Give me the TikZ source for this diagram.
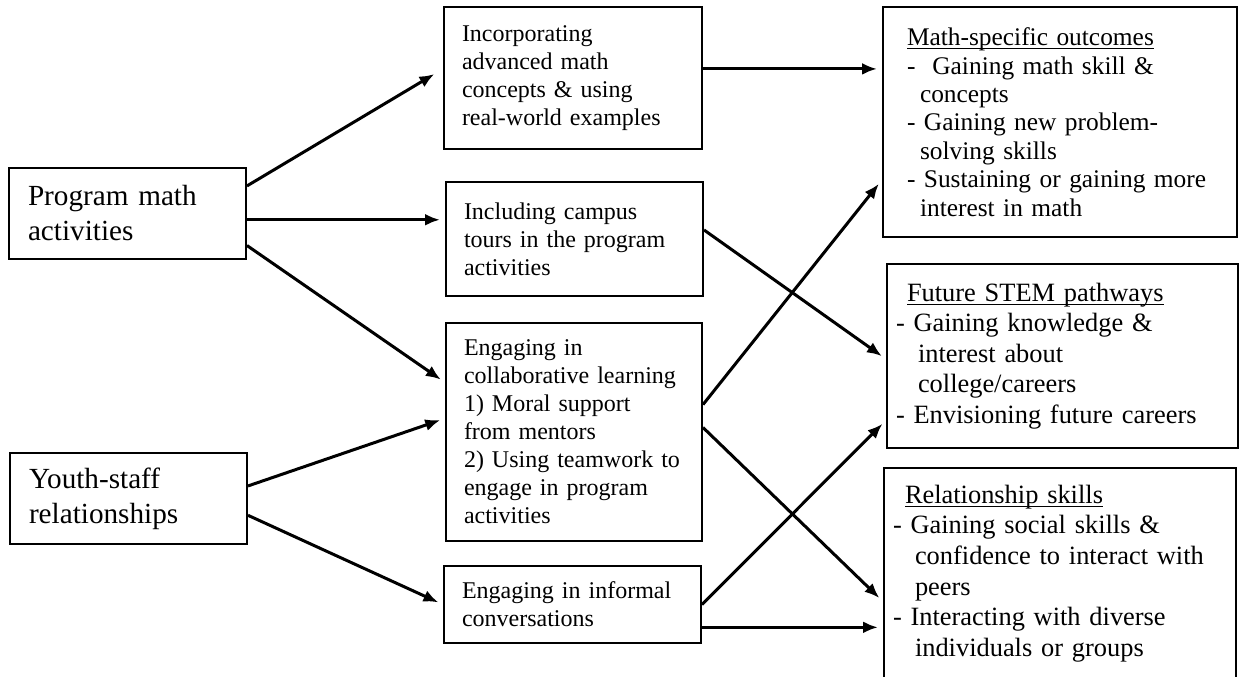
\documentclass[tikz,border=0pt]{standalone}
\usepackage{fontspec}
\setmainfont{Liberation Serif}
\usetikzlibrary{arrows.meta}
\newcommand{\uln}[1]{\setbox0\hbox{#1}\rlap{\rule[-1.8pt]{\wd0}{0.5pt}}#1}

\begin{document}
\begin{tikzpicture}[x=0.5pt,y={(0pt,-0.5pt)},
  box/.style={draw,line width=1pt,align=left,inner ysep=0pt},
  srcbox/.style={box,inner xsep=9.5pt,text width=99.5pt,minimum width=118.5pt,minimum height=45.5pt,font=\fontsize{14.6}{17.5}\selectfont},
  midbox/.style={box,inner xsep=9pt,font=\fontsize{12}{14}\selectfont},
  outbox/.style={box,inner xsep=4.5pt,font=\fontsize{13.2}{15.3}\selectfont},
  >={Latex[length=7.5pt,width=6pt]},
  link/.style={->,line width=1.5pt,shorten >=2.5pt}]
\useasboundingbox (0,0) rectangle (1239,676);

% sources
\node[srcbox] (math) at (127.5,213.5) {Program math\\activities};
\node[srcbox] (youth) at (128.5,498.5) {Youth-staff\\relationships};

% practices
\node[midbox,text width=111pt,minimum width=129pt,minimum height=71pt] (adv) at (573,78)
  {Incorporating\\advanced math\\concepts \& using\\real-world examples};
\node[midbox,text width=110.5pt,minimum width=128.5pt,minimum height=57pt] (tour) at (574.5,239)
  {Including campus\\tours in the program\\activities};
\node[midbox,text width=110pt,minimum width=128pt,minimum height=109pt] (collab) at (574,432)
  {Engaging in\\collaborative learning\\1) Moral support\\from mentors\\2) Using teamwork to\\engage in program\\activities};
\node[midbox,text width=110.5pt,minimum width=128.5pt,minimum height=38.5pt] (talk) at (572.5,604.5)
  {Engaging in informal\\conversations};

% outcomes
\node[outbox,inner xsep=12pt,text width=153pt,minimum width=177pt,minimum height=115pt,font=\fontsize{12.7}{14.2}\selectfont] (mathout) at (1060,122)
  {\uln{Math-specific outcomes}\\
   -\ \ Gaining math skill \&\\
   \hspace*{6.5pt}concepts\\
   - Gaining new problem-\\
   \hspace*{6.5pt}solving skills\\
   - Sustaining or gaining more\\
   \hspace*{6.5pt}interest in math};
\node[outbox,text width=166.5pt,minimum width=175.5pt,minimum height=92pt] (stem) at (1062.5,356)
  {\hspace*{5.5pt}\uln{Future STEM pathways}\\
   - Gaining knowledge \&\\
   \hspace*{11pt}interest about\\
   \hspace*{11pt}college/careers\\
   - Envisioning future careers};
\node[outbox,text width=167pt,minimum width=176pt,minimum height=105.5pt] (rel) at (1060,573.5)
  {\hspace*{6pt}\uln{Relationship skills}\\
   - Gaining social skills \&\\
   \hspace*{11pt}confidence to interact with\\
   \hspace*{11pt}peers\\
   - Interacting with diverse\\
   \hspace*{11pt}individuals or groups};

% links
\draw[link,shorten >=5pt] (math.13.5) -- (adv.176.7);
\draw[link] (math.-3.1) -- (math.-3.1 -| tour.west);
\draw[link] (math.-15.8) -- (collab.159.1);
\draw[link] (youth.6) -- (collab.174.6);
\draw[link] (youth.-8.9) -- (talk.west);
\draw[link] (adv.4.9) -- (adv.4.9 -| mathout.west);
\draw[link] (collab.12.8) -- (mathout.198.7);
\draw[link] (tour.4.9) -- (stem.181.3);
\draw[link] (collab.2.2) -- (rel.189.2);
\draw[link] (talk.east) -- (stem.200.6);
\draw[link] (talk.-10.4) -- (talk.-10.4 -| rel.west);
\end{tikzpicture}
\end{document}
